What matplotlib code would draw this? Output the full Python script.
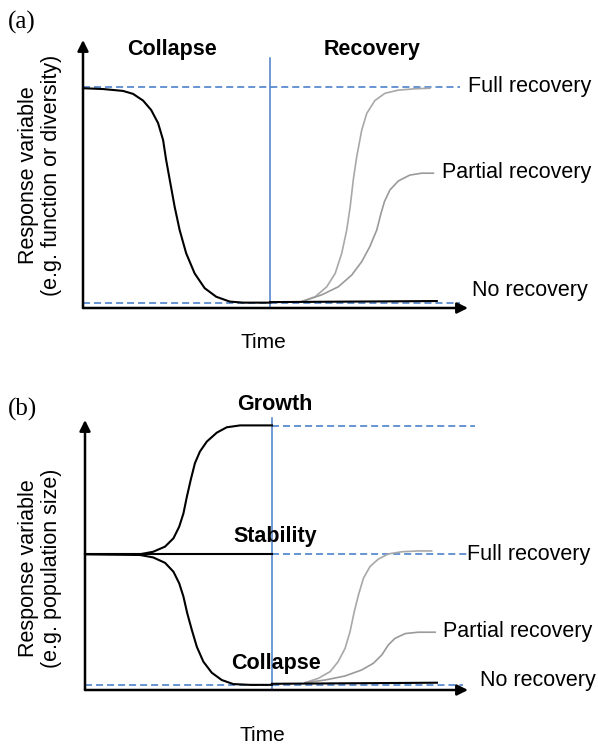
import numpy as np
import matplotlib
matplotlib.use('Agg')
import matplotlib.pyplot as plt

# ---- panel (a): function / diversity ----
a_collapse_x = [0, 5.2, 10.4, 13.0, 15.6, 17.7, 19.5, 20.8, 21.6, 22.7, 23.8, 25.1, 26.8,
	29.0, 31.6, 34.6, 38.1, 41.6, 48.6]
a_collapse_y = [82.0, 81.7, 81.0, 79.9, 77.4, 73.9, 69.0, 62.7, 55.2, 46.5, 37.8, 29.1, 20.4,
	12.9, 7.4, 4.2, 2.4, 2.0, 2.0]
a_none_x = [48.6, 91.9]
a_none_y = [2.2, 2.6]
a_full_x = [56.8, 60.3, 63.3, 65.5, 67.2, 68.5, 69.4, 70.2, 71.1, 72.4, 73.7, 75.8, 78.4,
	81.9, 86.2, 90.1]
a_full_y = [2.4, 4.2, 7.9, 12.9, 20.4, 29.1, 37.8, 47.8, 56.5, 66.4, 72.6, 77.4, 80.1,
	81.3, 81.8, 82.0]
a_partial_x = [56.8, 62.0, 66.3, 69.8, 72.4, 74.5, 76.3, 77.4, 78.3, 79.7, 81.9, 84.9, 88.0, 91.0]
a_partial_y = [2.4, 4.9, 7.9, 12.3, 17.3, 22.9, 29.1, 35.3, 39.7, 44.0, 47.4, 49.6, 50.3, 50.3]
a_full_level = 82.6
a_low_level = 1.7
a_split = 48.6

# ---- panel (b): population size ----
b_stable_x = [0, 48.8]
b_stable_y = [50.3, 50.3]
b_growth_x = [0, 14.4, 17.8, 20.9, 23.1, 24.6, 25.7, 26.6, 27.6, 28.7, 30.0, 31.8, 34.4,
	37.0, 40.5, 48.8]
b_growth_y = [50.3, 50.3, 51.2, 53.1, 56.2, 60.5, 65.4, 71.6, 77.8, 84.0, 88.3, 92.0, 95.3,
	97.3, 98.0, 98.0]
b_collapse_x = [0, 14.4, 17.8, 20.9, 23.1, 24.6, 25.7, 26.7, 27.9, 29.2, 30.9, 33.1, 35.7,
	38.7, 43.1, 48.8]
b_collapse_y = [50.3, 50.0, 49.1, 47.1, 43.8, 39.5, 34.6, 28.4, 22.2, 16.0, 10.5, 6.4, 3.7,
	2.2, 1.9, 1.9]
b_none_x = [48.8, 91.9]
b_none_y = [2.3, 2.7]
b_full_x = [57.4, 60.9, 64.0, 66.1, 67.9, 69.2, 70.3, 71.4, 72.7, 74.4, 76.6, 79.2, 82.7,
	87.0, 90.5]
b_full_y = [2.7, 4.3, 6.8, 10.5, 15.4, 21.6, 29.0, 35.2, 41.4, 45.7, 48.5, 50.4, 51.2,
	51.5, 51.5]
b_partial_x = [57.4, 62.7, 67.9, 72.2, 75.3, 77.5, 79.2, 80.9, 83.6, 87.0, 91.4]
b_partial_y = [2.7, 3.7, 5.2, 7.4, 9.9, 13.0, 16.7, 19.1, 20.9, 21.4, 21.4]
b_growth_level = 97.8
b_stable_level = 50.3
b_low_level = 1.7
b_split = 48.8

plt.rcParams['font.family'] = 'Liberation Sans'

blue = '#5b8bd0'
vblue = '#4a7fc8'
grey_full = '#a8a8a8'
grey_part = '#9a9a9a'
dash = (0, (3.9, 2.2))

fig = plt.figure(figsize=(5.98, 7.46), dpi=100)
W, H = 598.0, 746.0

ax_a = fig.add_axes([83/W, 1-308/H, 385/W, 268/H])
ax_b = fig.add_axes([85/W, 1-690/H, 383/W, 270/H])

def draw_axes(ax):
	ax.set_xlim(0, 100)
	ax.set_ylim(0, 100)
	ax.axis('off')
	arrow = dict(arrowstyle='-|>', lw=1.8, color='black', mutation_scale=16, shrinkA=0, shrinkB=0)
	ax.annotate('', xy=(100, 0), xytext=(0, 0), arrowprops=arrow, annotation_clip=False)
	ax.annotate('', xy=(0, 100), xytext=(0, 0), arrowprops=arrow, annotation_clip=False)

# panel a
draw_axes(ax_a)
ax_a.plot([0, 97.9], [a_full_level]*2, color=blue, lw=1.3, ls=dash, clip_on=False)
ax_a.plot([0, 97.9], [a_low_level]*2, color=blue, lw=1.3, ls=dash, clip_on=False)
ax_a.plot([a_split]*2, [0, 93.3], color=vblue, lw=1.1, clip_on=False)
ax_a.plot(a_full_x, a_full_y, color=grey_full, lw=1.2, clip_on=False)
ax_a.plot(a_partial_x, a_partial_y, color=grey_part, lw=1.2, clip_on=False)
ax_a.plot(a_collapse_x, a_collapse_y, color='black', lw=1.5, clip_on=False)
ax_a.plot(a_none_x, a_none_y, color='black', lw=1.5, clip_on=False)

ax_a.text(23.1, 96.3, 'Collapse', fontsize=15.5, weight='bold', ha='center', va='center')
ax_a.text(75.1, 96.3, 'Recovery', fontsize=15.5, weight='bold', ha='center', va='center')
ax_a.text(100, a_full_level, 'Full recovery', fontsize=15.5, ha='left', va='center')
ax_a.text(93.2, 50.4, 'Partial recovery', fontsize=15.5, ha='left', va='center')
ax_a.text(101, 6.7, 'No recovery', fontsize=15.5, ha='left', va='center')
ax_a.text(46.8, -12.7, 'Time', fontsize=15, ha='center', va='center')

# panel b
draw_axes(ax_b)
ax_b.plot([b_split, 101.8], [b_growth_level]*2, color=blue, lw=1.3, ls=dash, clip_on=False)
ax_b.plot([b_split, 100], [b_stable_level]*2, color=blue, lw=1.3, ls=dash, clip_on=False)
ax_b.plot([0, 98.7], [b_low_level]*2, color=blue, lw=1.3, ls=dash, clip_on=False)
ax_b.plot([b_split]*2, [0, 100.7], color=vblue, lw=1.1, clip_on=False)
ax_b.plot(b_full_x, b_full_y, color=grey_full, lw=1.2, clip_on=False)
ax_b.plot(b_partial_x, b_partial_y, color=grey_part, lw=1.2, clip_on=False)
ax_b.plot(b_growth_x, b_growth_y, color='black', lw=1.5, clip_on=False)
ax_b.plot(b_stable_x, b_stable_y, color='black', lw=1.5, clip_on=False)
ax_b.plot(b_collapse_x, b_collapse_y, color='black', lw=1.5, clip_on=False)
ax_b.plot(b_none_x, b_none_y, color='black', lw=1.5, clip_on=False)

ax_b.text(49.6, 105.6, 'Growth', fontsize=15.5, weight='bold', ha='center', va='center')
ax_b.text(49.6, 56.7, 'Stability', fontsize=15.5, weight='bold', ha='center', va='center')
ax_b.text(49.9, 10.0, 'Collapse', fontsize=15.5, weight='bold', ha='center', va='center')
ax_b.text(99.7, b_stable_level, 'Full recovery', fontsize=15.5, ha='left', va='center')
ax_b.text(93.5, 21.5, 'Partial recovery', fontsize=15.5, ha='left', va='center')
ax_b.text(103.1, 3.7, 'No recovery', fontsize=15.5, ha='left', va='center')
ax_b.text(46.2, -16.7, 'Time', fontsize=15, ha='center', va='center')

# panel letters and y labels
fig.text(8/W, 1-22/H, '(a)', family='Liberation Serif', fontsize=18, ha='left', va='center')
fig.text(8/W, 1-409/H, '(b)', family='Liberation Serif', fontsize=18, ha='left', va='center')
fig.text(40/W, 1-175/H, 'Response variable\n(e.g. function or diversity)', fontsize=15.5,
	rotation=90, ha='center', va='center', linespacing=1.15, multialignment='center')
fig.text(40/W, 1-568/H, 'Response variable\n(e.g. population size)', fontsize=15.5,
	rotation=90, ha='center', va='center', linespacing=1.15, multialignment='center')

plt.savefig('out.png', dpi=100)
plt.close()
